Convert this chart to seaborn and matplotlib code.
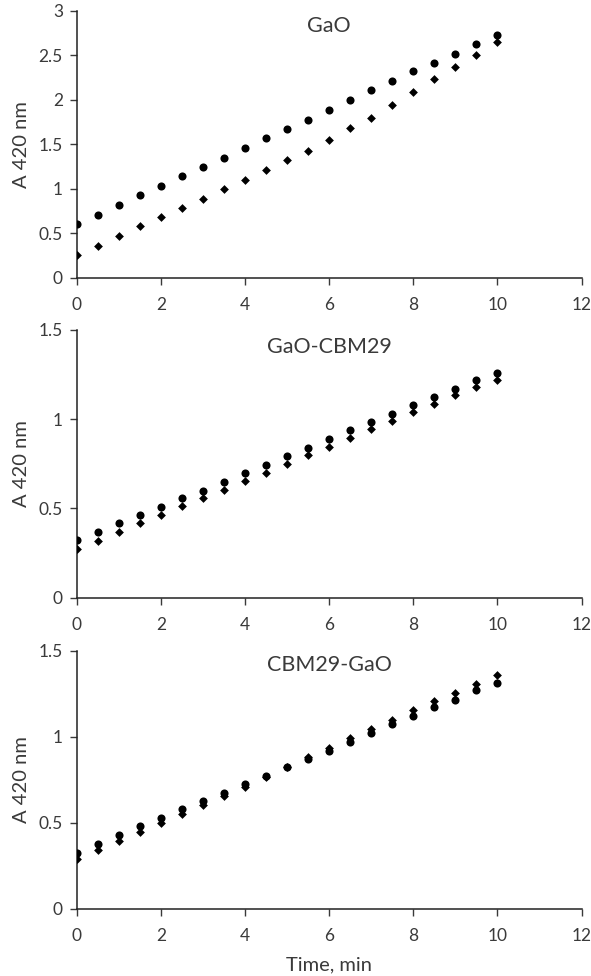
import pandas as pd
import matplotlib
matplotlib.use("Agg")
import matplotlib.pyplot as plt
import seaborn as sns

# time points, min
time = [0, 0.5, 1, 1.5, 2, 2.5, 3, 3.5, 4, 4.5, 5,
        5.5, 6, 6.5, 7, 7.5, 8, 8.5, 9, 9.5, 10]

# GaO
gao_circle = [0.605, 0.71, 0.815, 0.927, 1.036, 1.14, 1.247, 1.35, 1.46, 1.57, 1.675,
              1.78, 1.89, 2.0, 2.11, 2.21, 2.32, 2.42, 2.52, 2.63, 2.73]
gao_diamond = [0.262, 0.364, 0.47, 0.58, 0.687, 0.79, 0.89, 0.995, 1.10, 1.216, 1.325,
               1.43, 1.55, 1.685, 1.80, 1.94, 2.087, 2.24, 2.37, 2.51, 2.65]

# GaO-CBM29
gc_circle = [0.323, 0.37, 0.417, 0.463, 0.51, 0.557, 0.60, 0.65, 0.70, 0.745, 0.794,
             0.84, 0.889, 0.938, 0.984, 1.031, 1.081, 1.126, 1.171, 1.218, 1.26]
gc_diamond = [0.275, 0.32, 0.368, 0.418, 0.463, 0.512, 0.558, 0.605, 0.654, 0.70, 0.747,
              0.797, 0.846, 0.895, 0.943, 0.99, 1.04, 1.087, 1.134, 1.179, 1.22]

# CBM29-GaO
cg_circle = [0.326, 0.378, 0.429, 0.48, 0.528, 0.579, 0.627, 0.673, 0.724, 0.774, 0.823,
             0.871, 0.92, 0.972, 1.023, 1.073, 1.12, 1.172, 1.215, 1.271, 1.315]
cg_diamond = [0.289, 0.342, 0.392, 0.445, 0.499, 0.551, 0.604, 0.658, 0.71, 0.768, 0.822,
              0.885, 0.937, 0.992, 1.046, 1.10, 1.155, 1.207, 1.257, 1.31, 1.36]

titles = ["GaO", "GaO-CBM29", "CBM29-GaO"]
ymax = [3, 1.5, 1.5]
yticks = [[0, 0.5, 1, 1.5, 2, 2.5, 3], [0, 0.5, 1, 1.5], [0, 0.5, 1, 1.5]]
ytick_labels = [["0", "0.5", "1", "1.5", "2", "2.5", "3"],
                ["0", "0.5", "1", "1.5"], ["0", "0.5", "1", "1.5"]]
xticks = [0, 2, 4, 6, 8, 10, 12]

sns.set_style("ticks")
plt.rcParams['font.family'] = ['Lato', 'DejaVu Sans']
txt = "#3a3a3a"

fig = plt.figure(figsize=(5.91, 9.76), dpi=100)
boxes = [[0.130, 0.7152, 0.854, 0.2736],
         [0.130, 0.3876, 0.854, 0.2743],
         [0.130, 0.0690, 0.854, 0.2640]]
series = [(gao_circle, gao_diamond), (gc_circle, gc_diamond), (cg_circle, cg_diamond)]
title_y = [0.944, 0.937, 0.946]

for i in range(3):
    ax = fig.add_axes(boxes[i])
    df = pd.DataFrame({"time": time, "circle": series[i][0], "diamond": series[i][1]})
    sns.scatterplot(data=df, x="time", y="diamond", marker="D", s=20, color="black",
                    edgecolor="black", linewidth=0, ax=ax, zorder=3)
    sns.scatterplot(data=df, x="time", y="circle", marker="o", s=34, color="black",
                    edgecolor="black", linewidth=0, ax=ax, zorder=3)
    ax.set_xlim(0, 12)
    ax.set_ylim(0, ymax[i])
    ax.set_xticks(xticks)
    ax.set_xticklabels([str(v) for v in xticks])
    ax.set_yticks(yticks[i])
    ax.set_yticklabels(ytick_labels[i])
    ax.tick_params(labelsize=12.5, colors=txt, length=5, width=1, direction="out", pad=5)
    ax.tick_params(axis="x", pad=9)
    for sp in ["top", "right"]:
        ax.spines[sp].set_visible(False)
    for sp in ["left", "bottom"]:
        ax.spines[sp].set_color("#222222")
        ax.spines[sp].set_linewidth(1.1)
    ax.set_ylabel("A 420 nm", fontsize=14.5, color=txt, labelpad=6)
    ax.set_xlabel("")
    ax.text(0.5, title_y[i], titles[i], transform=ax.transAxes, ha="center",
            va="center", fontsize=15.5, color=txt)
    if i == 2:
        ax.set_xlabel("Time, min", fontsize=14.5, color=txt, labelpad=9)

fig.savefig("out.png", dpi=100)
